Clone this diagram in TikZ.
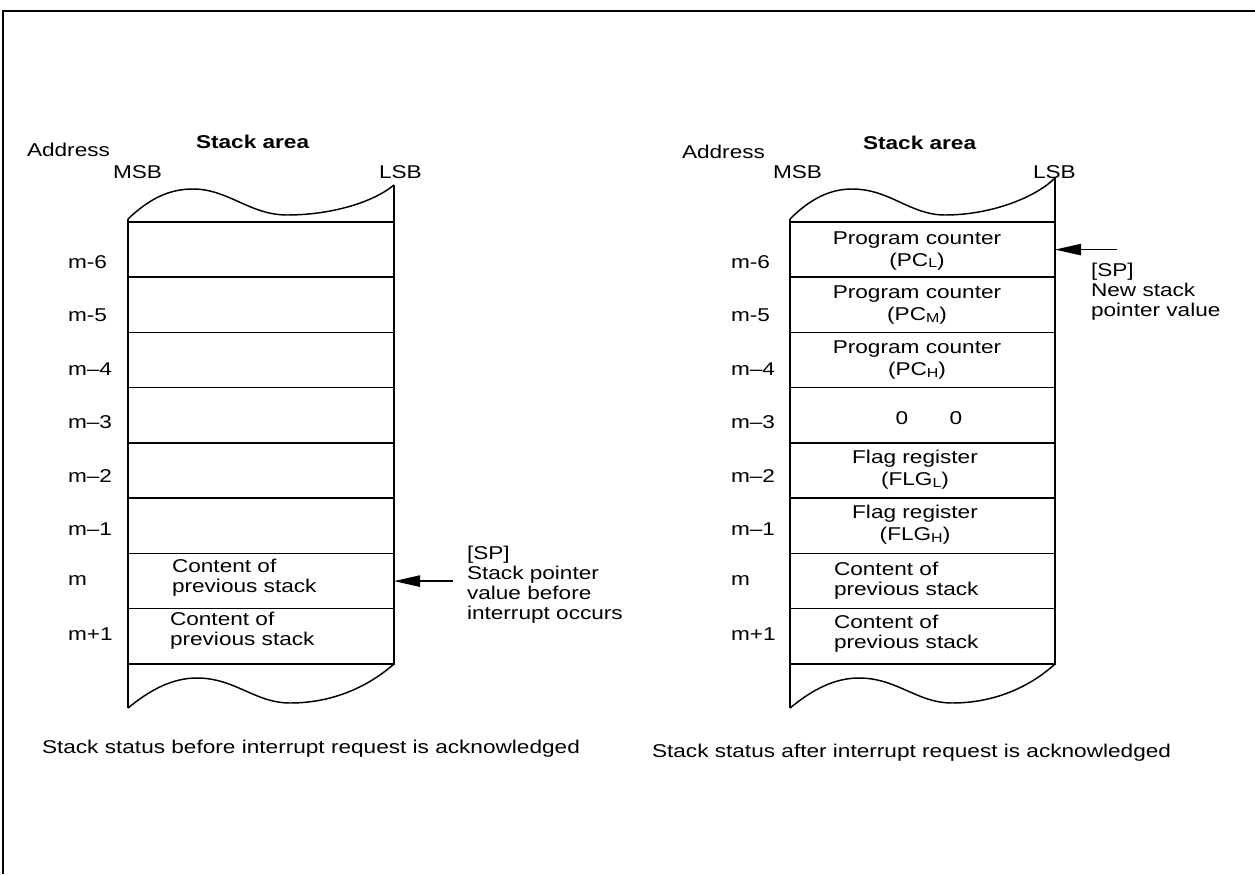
\documentclass[tikz,border=0pt]{standalone}
\usepackage{fontspec}
\setmainfont{Liberation Sans}[FakeStretch=1.22]
\usetikzlibrary{arrows.meta}
\newcommand\subx[1]{\raisebox{-0.1em}{\fontsize{9.8}{10}\selectfont #1}}
\begin{document}
\begin{tikzpicture}[x=0.75pt,y=-0.75pt,
  every node/.style={font=\fontsize{13.9}{15}\selectfont, inner sep=0pt, outer sep=0pt},
  frame/.style={line width=2pt},
  stk/.style={line width=1.1pt},
  lcell/.style={draw, line width=1.1pt, minimum width=199.5pt, minimum height=41.44pt},
  rcell/.style={draw, line width=1.1pt, minimum width=198.75pt, minimum height=41.44pt},
  lbl/.style={anchor=base west},
  ctext/.style={anchor=base, align=center, font=\fontsize{13.9}{16.5}\selectfont},
  ltext/.style={anchor=base west, align=left},
  hdr/.style={anchor=base west, font=\fontsize{13.9}{15}\selectfont\bfseries},
  ptr/.style={line width=1.1pt, -{Triangle[length=19.5pt,width=8.5pt]}}
]
\useasboundingbox (0,0) rectangle (1255,874);
% frame
\draw[frame] (1255,11) -- (3,11) -- (3,874);

% ---------- left stack ----------
\foreach \i in {0,...,7} {
  \node[lcell] (L\i) at (261,{249.6+55.25*\i}) {};
}
\draw[stk] (128,219) -- (128,708);
\draw[stk] (394,185) -- (394,664);
\draw[stk] (128,219) .. controls (150,198) and (170,189) .. (193,189)
  .. controls (228,189) and (250,215) .. (287,215)
  .. controls (330,215) and (372,203) .. (394,185);
\draw[stk] (128,708) .. controls (150,690) and (172,678) .. (197,678)
  .. controls (235,678) and (255,703) .. (290,703)
  .. controls (335,703) and (370,685) .. (394,664);

\node[lbl] (ladr) at (27,156) {Address};
\node[hdr] (lhdr) at (196,148) {Stack area};
\node[lbl] (lmsb) at (113,178) {MSB};
\node[lbl] (llsb) at (379,178) {LSB};

\node[lbl] (la6) at (68,268) {m-6};
\node[lbl] (la5) at (68,321) {m-5};
\node[lbl] (la4) at (68,375) {m--4};
\node[lbl] (la3) at (68,428) {m--3};
\node[lbl] (la2) at (68,482) {m--2};
\node[lbl] (la1) at (68,535) {m--1};
\node[lbl] (la0) at (68,585) {m};
\node[lbl] (lap) at (68,640) {m+1};

% multi-line nodes: base anchor = baseline of last line
\node[ltext] (lc1) at (172,592) {Content of\\previous stack};
\node[ltext] (lc2) at (170,645) {Content of\\previous stack};

\coordinate (lsp) at (453,581.1);
\draw[ptr] (lsp) -- (L6.east);
\node[ltext] (lspt) at (467,619) {[SP]\\Stack pointer\\value before\\interrupt occurs};

\node[lbl] (lcap) at (42,753) {Stack status before interrupt request is acknowledged};

% ---------- right stack ----------
\foreach \i in {0,...,7} {
  \node[rcell] (R\i) at (922.5,{249.6+55.25*\i}) {};
}
\draw[stk] (790,219) -- (790,708);
\draw[stk] (1055,178) -- (1055,664);
\draw[stk] (790,219) .. controls (810,199) and (830,189) .. (852,189)
  .. controls (890,189) and (910,215) .. (945,215)
  .. controls (990,215) and (1035,198) .. (1055,178);
\draw[stk] (790,708) .. controls (812,690) and (834,678) .. (859,678)
  .. controls (897,678) and (917,703) .. (952,703)
  .. controls (997,703) and (1032,685) .. (1055,664);

\node[lbl] (radr) at (682,158) {Address};
\node[hdr] (rhdr) at (863,149) {Stack area};
\node[lbl] (rmsb) at (773,178) {MSB};
\node[lbl] (rlsb) at (1033,178) {LSB};

\node[lbl] (ra6) at (731,268) {m-6};
\node[lbl] (ra5) at (731,321) {m-5};
\node[lbl] (ra4) at (731,375) {m--4};
\node[lbl] (ra3) at (731,428) {m--3};
\node[lbl] (ra2) at (731,482) {m--2};
\node[lbl] (ra1) at (731,535) {m--1};
\node[lbl] (ra0) at (731,585) {m};
\node[lbl] (rap) at (731,640) {m+1};

\node[ctext] (rt0) at (917,266) {Program counter\\(PC\subx{L})};
\node[ctext] (rt1) at (917,320.5) {Program counter\\(PC\subx{M})};
\node[ctext] (rt2) at (917,375.5) {Program counter\\(PC\subx{H})};
\node[anchor=base] (rz1) at (902,424.5) {0};
\node[anchor=base] (rz2) at (956,424.5) {0};
\node[ctext] (rt4) at (915,485.5) {Flag register\\(FLG\subx{L})};
\node[ctext] (rt5) at (915,540.5) {Flag register\\(FLG\subx{H})};

\node[ltext] (rc1) at (834,595) {Content of\\previous stack};
\node[ltext] (rc2) at (834,648) {Content of\\previous stack};

\coordinate (rsp) at (1117,249.6);
\draw[ptr] (rsp) -- (R0.east);
\node[ltext] (rspt) at (1091,316) {[SP]\\New stack\\pointer value};

\node[lbl] (rcap) at (652,757) {Stack status after interrupt request is acknowledged};
\end{tikzpicture}
\end{document}
